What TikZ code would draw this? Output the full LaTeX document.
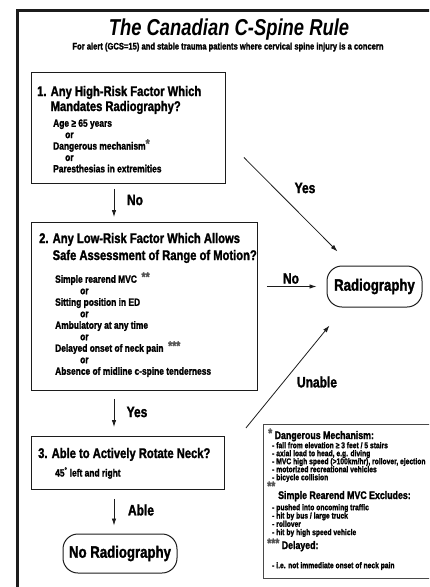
\documentclass[tikz,border=0pt]{standalone}
\usepackage{fontspec}
\setmainfont{Liberation Sans}[FakeStretch=0.8,BoldFeatures={FakeBold=1.6}]
\usetikzlibrary{arrows.meta,calc,positioning}
\definecolor{RuleInk}{RGB}{28,28,28}

\begin{document}
\begin{tikzpicture}[x=1pt,y=-1pt,>={Latex[length=7pt,width=4.5pt]}]
  \tikzset{
    qbox/.style={draw=RuleInk,line width=0.9pt,inner sep=0pt,anchor=north west},
    outcome/.style={draw=RuleInk,line width=1pt,rounded corners=15pt,inner sep=0pt,font=\fontsize{16.5}{18}\selectfont\bfseries},
    head/.style={anchor=base west,inner sep=0pt,font=\fontsize{14}{15}\selectfont\bfseries},
    item/.style={anchor=base west,inner sep=0pt,font=\fontsize{10.5}{11}\selectfont\bfseries},
    lbl/.style={inner sep=0pt,font=\fontsize{15}{16}\selectfont\bfseries},
    nhead/.style={anchor=base west,inner sep=0pt,font=\fontsize{11}{12}\selectfont\bfseries},
    nitem/.style={anchor=base west,inner sep=0pt,font=\fontsize{8.4}{9}\selectfont\bfseries},
    arr/.style={->,RuleInk,line width=0.8pt}
  }
  \newcommand\stars[1]{\raisebox{1.5pt}{\fontsize{13}{13}\selectfont\color{RuleInk!75}#1}}
  \useasboundingbox (0,0) rectangle (429,587);
  \clip (0,0) rectangle (429,587);
  % frame and title
  \draw[line width=3pt,RuleInk] (17.5,590) -- (17.5,10.5) -- (432,10.5);
  \node[anchor=base,inner sep=0pt,font=\fontsize{23}{25}\selectfont\bfseries\itshape] (title) at (229,35) {The Canadian C-Spine Rule};
  \node[anchor=base,inner sep=0pt,font=\fontsize{9.5}{10}\selectfont\bfseries] (sub) at (228,49.5) {For alert (GCS=15) and stable trauma patients where cervical spine injury is a concern};

  % question 1
  \node[qbox,minimum width=194pt,minimum height=111pt] (q1) at (31,72) {};
  \node[head] (q1h) at (37,96) {1. Any High-Risk Factor Which};
  \node[head] (q1h2) at (37,111) {\hphantom{1. }Mandates Radiography?};
  \foreach \dx/\txt [count=\i from 0] in {0/{Age ≥ 65 years},12/or,0/{Dangerous mechanism\stars{*}},12/or,0/{Paresthesias in extremities}}
    \node[item,name=q1i\i] at (53+\dx,126.75+11.4*\i) {\txt};

  % question 2
  \node[qbox,minimum width=226pt,minimum height=168pt] (q2) at (31,222) {};
  \node[head] (q2h) at (39,243) {2. Any Low-Risk Factor Which Allows};
  \node[head] (q2h2) at (39,260) {\hphantom{2. }Safe Assessment of Range of Motion?};
  \foreach \dx/\txt [count=\i from 0] in {0/{Simple rearend MVC \ \stars{**}},25/or,0/{Sitting position in ED},25/or,0/{Ambulatory at any time},25/or,0/{Delayed onset of neck pain \ \stars{***}},25/or,0/{Absence of midline c-spine tenderness}}
    \node[item,name=q2i\i] at (55+\dx,282.75+11.5*\i) {\txt};

  % question 3
  \node[qbox,minimum width=193pt,minimum height=53pt] (q3) at (31,436) {};
  \node[head] (q3h) at (38,458) {3. Able to Actively Rotate Neck?};
  \node[item] (q3i) at (55,476.5) {45\textsuperscript{°} left and right};

  % outcomes
  \node[outcome,minimum width=95pt,minimum height=41pt] (rad) at (374.5,286.5) {Radiography};
  \node[outcome,minimum width=114pt,minimum height=39pt] (norad) at (120,553.5) {No Radiography};

  % connectors
  \coordinate (axis) at (114,0);
  \draw[arr,shorten <=5pt,shorten >=5pt] (q1.south -| axis) -- (q2.north -| axis);
  \draw[arr,shorten <=8pt,shorten >=9pt] (q2.south -| axis) -- (q3.north -| axis);
  \draw[arr,shorten <=9pt,shorten >=8pt] (q3.south -| axis) -- (norad.north -| axis);
  \draw[arr] ($(q1.east)+(18,29.5)$) -- ($(rad.north west)+(11,-14)$);
  \draw[arr,shorten <=9pt,shorten >=10pt] (q2.east |- rad.west) -- (rad.west);
  \draw[arr] ($(q3.north east)+(21,-8)$) -- ($(rad.south west)+(3,18)$);
  \node[lbl] (l1) at (135,200) {No};
  \node[lbl] (l2) at (137,412) {Yes};
  \node[lbl] (l3) at (141,510) {Able};
  \node[lbl] (l4) at (305,188) {Yes};
  \node[lbl] (l5) at (291,278.5) {No};
  \node[lbl] (l6) at (317,382) {Unable};

  % notes
  \node[qbox,draw=RuleInk!80,line width=0.7pt,minimum width=180pt,minimum height=154pt] (notes) at (263,424) {};
  \node[nhead] (n1h) at (268,439) {\stars{*} Dangerous Mechanism:};
  \foreach \txt [count=\i from 0] in {- fall from elevation ≥ 3 feet / 5 stairs,{- axial load to head, e.g. diving},{- MVC high speed (>100km/hr), rollover, ejection},- motorized recreational vehicles,- bicycle collision}
    \node[nitem,name=n1i\i] at (272,448.2+8*\i) {\txt};
  \node[nhead] (n2s) at (267,492) {\stars{**}};
  \node[nhead] (n2h) at (278,499) {Simple Rearend MVC Excludes:};
  \foreach \txt [count=\i from 0] in {- pushed into oncoming traffic,- hit by bus / large truck,- rollover,- hit by high speed vehicle}
    \node[nitem,name=n2i\i] at (272,510.2+8.3*\i) {\txt};
  \node[nhead] (n3h) at (267,549) {\stars{***} Delayed:};
  \node[nitem] (n3i) at (272,568.2) {- i.e. not immediate onset of neck pain};
\end{tikzpicture}
\end{document}
